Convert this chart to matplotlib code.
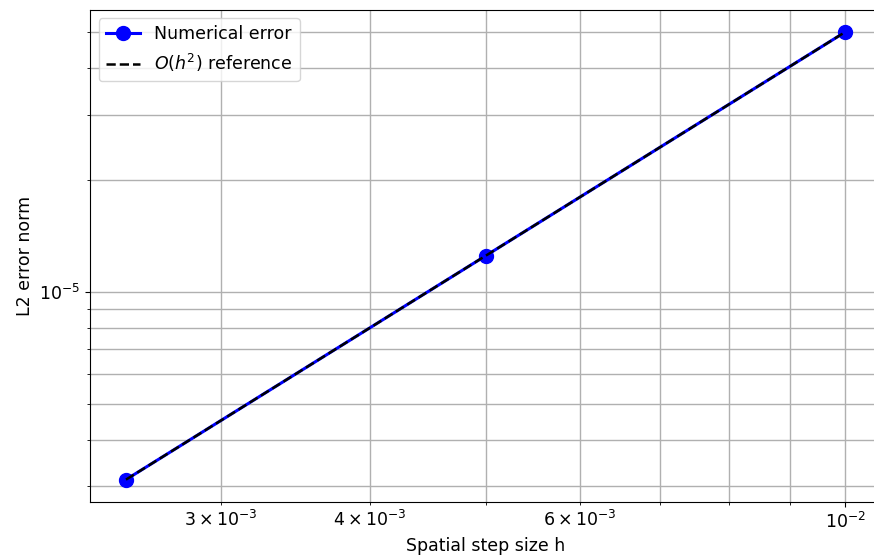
import matplotlib
matplotlib.use('Agg')
import matplotlib.pyplot as plt
import numpy as np

# grid spacings and measured L2 errors
h_values = [0.0025, 0.005, 0.01]
l2_errors = [3.125e-6, 1.25e-5, 5.0e-5]

h = np.array(h_values)
err = np.array(l2_errors)
ref = err[-1] * (h / h[-1]) ** 2

fig = plt.figure(figsize=(8.74, 5.6), dpi=100)
ax = fig.add_axes([0.103, 0.1036, 0.905, 0.879])

ax.loglog(h, err, 'o-', color='blue', linewidth=2.2, markersize=10,
          label='Numerical error')
ax.loglog(h, ref, 'k--', linewidth=1.8, label=r'$O(h^2)$ reference')

ax.set_xlabel('Spatial step size h', fontsize=12.5)
ax.set_ylabel('L2 error norm', fontsize=12.5)
ax.tick_params(which='both', labelsize=12.5)
ax.grid(True, which='both', color='#b0b0b0', linewidth=1.0)
ax.legend(fontsize=12.5, loc='upper left')

fig.savefig('out.png', dpi=100)
